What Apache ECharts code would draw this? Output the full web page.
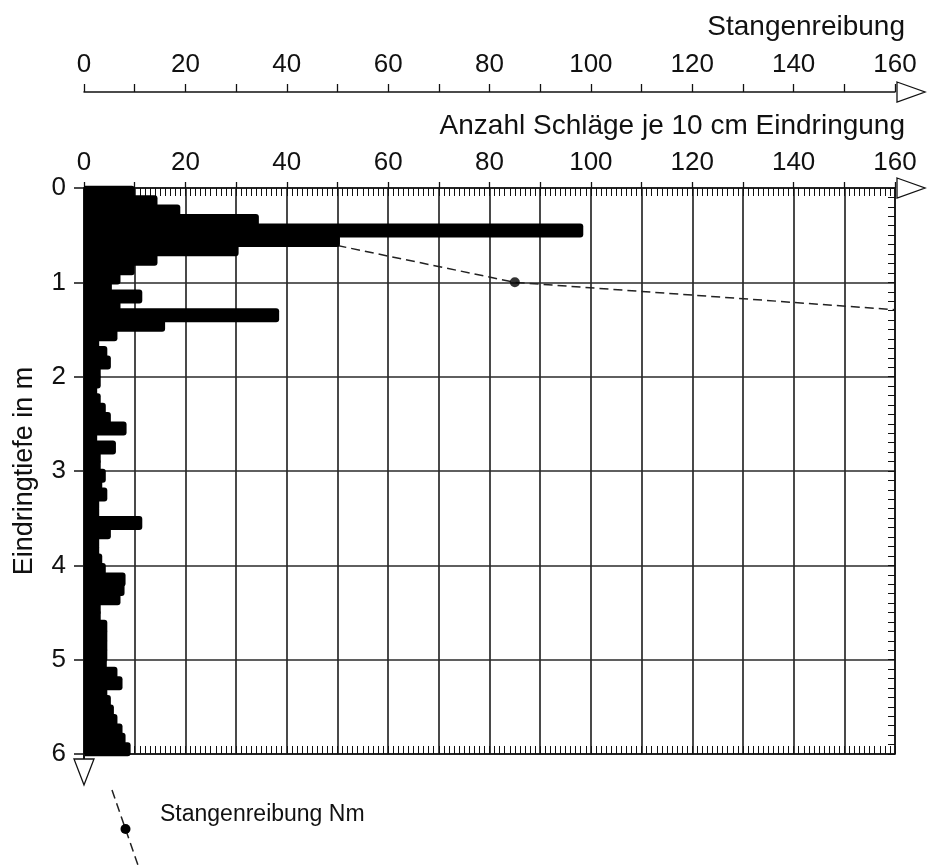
<!DOCTYPE html>
<html>
<head>
<meta charset="utf-8">
<script src="https://cdn.jsdelivr.net/npm/echarts@6/dist/echarts.min.js"></script>
<style>
  html, body { margin: 0; padding: 0; background: #fff; }
  #chart { width: 928px; height: 865px; }
</style>
</head>
<body>
<div id="chart"></div>
<script>
// Depth intervals (top of each 10 cm step, in m)
const depthSteps = [
  '0.0','0.1','0.2','0.3','0.4','0.5','0.6','0.7','0.8','0.9',
  '1.0','1.1','1.2','1.3','1.4','1.5','1.6','1.7','1.8','1.9',
  '2.0','2.1','2.2','2.3','2.4','2.5','2.6','2.7','2.8','2.9',
  '3.0','3.1','3.2','3.3','3.4','3.5','3.6','3.7','3.8','3.9',
  '4.0','4.1','4.2','4.3','4.4','4.5','4.6','4.7','4.8','4.9',
  '5.0','5.1','5.2','5.3','5.4','5.5','5.6','5.7','5.8','5.9'
];

// Blows per 10 cm penetration
const blowsPer10cm = [
  10, 14.5, 19, 34.5, 98.5, 50.5, 30.5, 14.5, 10, 7.2,
  5.5, 11.5, 7.2, 38.5, 16, 6.6, 3, 4.6, 5.3, 3.3,
  3.3, 2.6, 3.3, 4.3, 5.3, 8.4, 2.6, 6.3, 3.3, 3.3,
  4.3, 3.6, 4.6, 3, 3, 11.5, 5.3, 3, 3, 3.6,
  4.3, 8.2, 8, 7.2, 3.3, 3.3, 4.6, 4.6, 4.6, 4.6,
  4.5, 6.6, 7.6, 4.6, 5.3, 5.9, 6.6, 7.6, 8.2, 9.2
];

// Rod friction (Nm) against depth (m)
const frictionNm = [50, 85, 160];
const frictionDepth = [0.61, 1.0, 1.29];
const frictionMeasured = [[85, 1.0]];

// Axis ticks
const depthTicks = [0, 1, 2, 3, 4, 5, 6];
const topTickLabels = [0, 20, 40, 60, 80, 100, 120, 140, 160];

const W = 928, H = 865;
const G = { left: 84, right: 33, top: 188, bottom: 111 };
const plotRight = W - G.right;
const plotBottom = H - G.bottom;
const INK = '#111';
const FONT = "'Liberation Sans', Arial, Helvetica, sans-serif";

const chart = echarts.init(document.getElementById('chart'), null, { renderer: 'canvas' });

const labelFmt = v => (topTickLabels.indexOf(v) >= 0 ? String(v) : '');

function openArrowRight(x, y) {
  return {
    type: 'polygon',
    shape: { points: [[x, y - 10], [x + 28, y], [x, y + 10]] },
    style: { fill: '#fff', stroke: INK, lineWidth: 1.3 },
    z: 10
  };
}

const option = {
  animation: false,
  backgroundColor: '#fff',
  textStyle: { fontFamily: FONT, color: INK },
  title: [
    { text: 'Stangenreibung', right: 18, top: 8,
      textStyle: { fontFamily: FONT, fontSize: 28, fontWeight: 'normal', color: INK } },
    { text: 'Anzahl Schläge je 10 cm Eindringung', right: 18, top: 107,
      textStyle: { fontFamily: FONT, fontSize: 28, fontWeight: 'normal', color: INK } }
  ],
  grid: {
    left: G.left, right: G.right, top: G.top, bottom: G.bottom,
    containLabel: false, outerBoundsMode: 'none'
  },
  xAxis: [
    { // blows axis on the plot's top edge
      type: 'value', position: 'top', min: 0, max: 160, interval: 10,
      axisLine: { show: true, onZero: false, lineStyle: { color: INK, width: 1.5 } },
      axisTick: { show: true, length: 6, lineStyle: { color: INK, width: 1.3 } },
      axisLabel: { formatter: labelFmt, fontSize: 26, margin: 12, color: INK, fontFamily: FONT },
      splitLine: { show: true, lineStyle: { color: '#2a2a2a', width: 1.7 } }
    },
    { // rod friction axis above
      type: 'value', position: 'top', offset: 96, min: 0, max: 160, interval: 10,
      axisLine: { show: true, onZero: false, lineStyle: { color: INK, width: 1.5 } },
      axisTick: { show: true, length: 8, lineStyle: { color: INK, width: 1.3 } },
      axisLabel: { formatter: labelFmt, fontSize: 26, margin: 14, color: INK, fontFamily: FONT },
      splitLine: { show: false }
    },
    { // fine inner ticks along the top edge
      type: 'value', position: 'top', min: 0, max: 160, interval: 1,
      axisLine: { show: false, onZero: false },
      axisTick: { show: true, inside: true, length: 8, lineStyle: { color: INK, width: 1 } },
      axisLabel: { show: false },
      splitLine: { show: false }
    },
    { // bottom edge with fine inner ticks
      type: 'value', position: 'bottom', min: 0, max: 160, interval: 1,
      axisLine: { show: true, onZero: false, lineStyle: { color: INK, width: 1.5 } },
      axisTick: { show: true, inside: true, length: 8, lineStyle: { color: INK, width: 1 } },
      axisLabel: { show: false },
      splitLine: { show: false }
    }
  ],
  yAxis: [
    { // depth scale
      type: 'value', position: 'left', inverse: true, min: 0, max: 6, interval: 1,
      name: 'Eindringtiefe in m', nameLocation: 'middle', nameGap: 46, nameRotate: 90,
      nameTextStyle: { fontSize: 27, color: INK, fontFamily: FONT },
      axisLine: { show: true, onZero: false, lineStyle: { color: INK, width: 2 } },
      axisTick: { show: true, length: 10, lineStyle: { color: INK, width: 1.5 } },
      axisLabel: { fontSize: 26, margin: 18, color: INK, fontFamily: FONT,
        formatter: v => (depthTicks.indexOf(v) >= 0 ? String(v) : '') },
      splitLine: { show: true, lineStyle: { color: '#2a2a2a', width: 1.7 } }
    },
    { // right edge with 10 cm inner ticks
      type: 'value', position: 'right', inverse: true, min: 0, max: 6, interval: 0.1,
      axisLine: { show: true, onZero: false, lineStyle: { color: INK, width: 1.5 } },
      axisTick: { show: true, inside: true, length: 7, lineStyle: { color: INK, width: 1 } },
      axisLabel: { show: false },
      splitLine: { show: false }
    },
    { // 10 cm steps carrying the bars
      type: 'category', position: 'left', inverse: true, data: depthSteps,
      show: false, boundaryGap: true, axisLine: { onZero: false }
    }
  ],
  series: [
    {
      name: 'Stangenreibung Nm', type: 'line', xAxisIndex: 1, yAxisIndex: 0,
      data: frictionNm.map((v, i) => [v, frictionDepth[i]]),
      symbol: 'none', clip: true, z: 2,
      lineStyle: { color: '#222', width: 1.5, type: [9, 5] }
    },
    {
      name: 'Schläge', type: 'bar', xAxisIndex: 0, yAxisIndex: 2,
      data: blowsPer10cm, barWidth: 14, clip: false, z: 3,
      itemStyle: { color: '#000', borderRadius: [0, 3, 3, 0] }
    },
    {
      name: 'Messpunkt', type: 'scatter', xAxisIndex: 1, yAxisIndex: 0,
      data: frictionMeasured, symbol: 'circle', symbolSize: 10, z: 4,
      itemStyle: { color: '#000' }
    }
  ],
  graphic: [
    openArrowRight(plotRight + 2, G.top - 96),
    openArrowRight(plotRight + 2, G.top),
    { // depth axis arrow below the plot
      type: 'polygon',
      shape: { points: [[G.left - 10, plotBottom + 5], [G.left + 10, plotBottom + 5], [G.left, plotBottom + 31]] },
      style: { fill: '#fff', stroke: INK, lineWidth: 1.3 }, z: 10
    },
    { type: 'line', shape: { x1: G.left, y1: plotBottom, x2: G.left, y2: plotBottom + 5 },
      style: { stroke: INK, lineWidth: 2 }, z: 10 },
    // legend key for the friction line
    { type: 'line', shape: { x1: 112, y1: 790, x2: 139, y2: 868 },
      style: { stroke: '#222', lineWidth: 1.5, lineDash: [9, 5] }, z: 10 },
    { type: 'circle', shape: { cx: 125.5, cy: 829, r: 5 }, style: { fill: '#000' }, z: 11 },
    { type: 'text', left: 160, top: 803,
      style: { text: 'Stangenreibung Nm', fontSize: 23, fontFamily: FONT, fill: INK }, z: 11 }
  ]
};

chart.setOption(option);
</script>
</body>
</html>
